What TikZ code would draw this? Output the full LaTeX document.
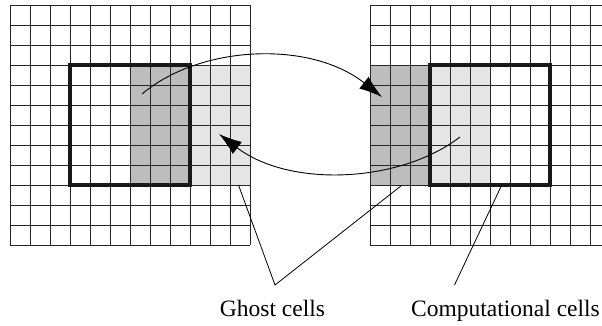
\documentclass[tikz,border=0pt]{standalone}
\usepackage{fontspec}
\setmainfont{Liberation Serif}
\usetikzlibrary{arrows.meta}
\definecolor{darkcell}{gray}{0.74}
\definecolor{lightcell}{gray}{0.90}
\tikzset{
  gridline/.style={line width=0.9pt, draw=black!85},
  thickbox/.style={line width=3.4pt, draw=black!90},
  exch/.style={line width=0.9pt, -{Latex[length=23pt,width=15pt]}},
  leader/.style={line width=0.8pt},
  lbl/.style={font=\fontsize{23.5}{28}\selectfont, anchor=base, inner sep=0pt}
}
\begin{document}
\begin{tikzpicture}[x=1pt,y=-1pt]
\useasboundingbox (0,0) rectangle (602,326);
\clip (0,0) rectangle (602,326);
% fills
\fill[darkcell] (130,65) rectangle (190,185);
\fill[lightcell] (190,65) rectangle (250,185);
\fill[darkcell] (370,65) rectangle (430,185);
\fill[lightcell] (430,65) rectangle (490,185);
% grids
\foreach \i in {0,...,12} {
  \draw[gridline] ({10+20*\i},5) -- ({10+20*\i},245);
  \draw[gridline] (10,{5+20*\i}) -- (250,{5+20*\i});
  \draw[gridline] ({370+20*\i},5) -- ({370+20*\i},245);
  \draw[gridline] (370,{5+20*\i}) -- (610,{5+20*\i});
}
% computational boxes
\draw[thickbox] (70,65) rectangle (190,185);
\draw[thickbox] (430,65) rectangle (550,185);
% exchange arrows
\coordinate (srcL) at (142,94);
\coordinate (dstR) at (382,97);
\coordinate (srcR) at (460,137);
\coordinate (dstL) at (219,134);
\draw[exch] (srcL) .. controls (200,45) and (310,40) .. (dstR);
\draw[exch] (srcR) .. controls (400,183) and (290,188) .. (dstL);
% labels
\node[lbl] (ghost) at (272.5,316.7) {Ghost cells};
\node[lbl] (comp) at (505.5,316.7) {Computational cells};
\coordinate (gapex) at (275,285);
\coordinate (capex) at (454.5,285);
\coordinate (gL) at (238.5,185);
\coordinate (gR) at (401.5,185.5);
\coordinate (cT) at (501.5,185.5);
\draw[leader] (gL) -- (gapex) -- (gR);
\draw[leader] (cT) -- (capex);
\end{tikzpicture}
\end{document}
